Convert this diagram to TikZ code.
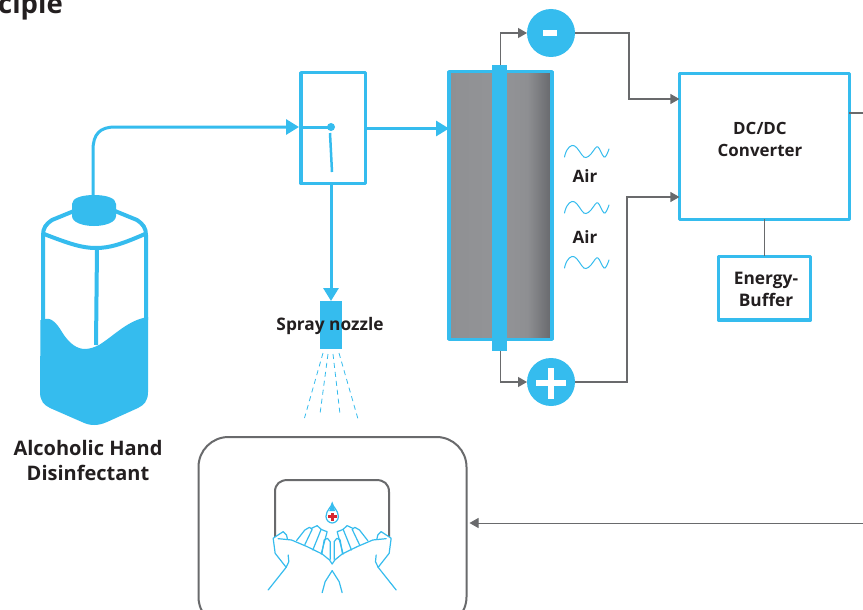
\documentclass[tikz,border=0pt]{standalone}
\usepackage{fontspec}
\setmainfont{Open Sans}
\usetikzlibrary{arrows.meta,calc}
\definecolor{fblue}{HTML}{35BCEE}
\definecolor{fgray}{HTML}{696A6C}
\definecolor{ftext}{HTML}{231F20}
\definecolor{fred}{HTML}{D7262F}
\definecolor{shA}{HTML}{8F9093}
\definecolor{shB}{HTML}{939497}
\definecolor{shC}{HTML}{8E8F92}
\definecolor{shD}{HTML}{66676B}
\pgfdeclarehorizontalshading{stackshade}{100bp}{
  color(0bp)=(shA);color(25bp)=(shA);color(50bp)=(shB);color(63bp)=(shC);color(75bp)=(shD);color(100bp)=(shD)}
\tikzset{
  bluebox/.style={draw=fblue,line width=3.5pt,line join=round,inner sep=0pt,outer sep=0pt,fill=white},
  bluebar/.style={fill=fblue,draw=none,inner sep=0pt,outer sep=0pt},
  pole/.style={circle,fill=fblue,draw=none,inner sep=0pt,outer sep=0pt,minimum size=48pt},
  bluepipe/.style={draw=fblue,line width=3pt,-{Triangle[length=13pt,width=15pt]}},
  wire/.style={draw=fgray,line width=1.2pt,-{Triangle[length=9pt,width=10pt]}},
  wireplain/.style={draw=fgray,line width=1.2pt},
  lab/.style={font=\bfseries,text=ftext,align=center,inner sep=0pt},
  spraydash/.style={draw=fblue,line width=0.8pt,dash pattern=on 5pt off 4pt},
  airwave/.style={draw=fblue,line width=1pt,line cap=round},
  handline/.style={draw=fblue,line width=1.2pt,line join=round,line cap=round},
}
\begin{document}
\begin{tikzpicture}[x=1pt,y=-1pt]
\useasboundingbox (0,0) rectangle (863,610);
\fill[white] (0,0) rectangle (863,610);
\begin{scope}
\clip (0,0) rectangle (863,610);
\node[lab,anchor=base west,font=\bfseries\fontsize{27.5}{30}\selectfont] (title) at (-2,14) {ciple};

% bottle
\fill[fblue] (40.5,320) -- (43,320) .. controls (50,316) and (56,322) .. (62,332)
  .. controls (70,345) and (78,349) .. (85,349) .. controls (90,349) and (95,347) .. (99,345)
  .. controls (115,335) and (128,320) .. (148,317) -- (148,392)
  .. controls (148,401) and (144,405) .. (138,408) -- (107,422)
  .. controls (98,426) and (90,426) .. (82,422) -- (50,408)
  .. controls (44,405) and (40,401) .. (40,392) -- cycle;
\draw[fblue,line width=4pt,line join=round] (43,320) -- (43,235)
  .. controls (43,228) and (46,224) .. (52,220) -- (74,211);
\draw[fblue,line width=4pt,line join=round] (146,320) -- (146,235)
  .. controls (146,228) and (143,224) .. (137,220) -- (115,211);
\draw[fblue,line width=4pt] (44,234) .. controls (70,244) and (82,248) .. (96,248)
  .. controls (110,248) and (122,244) .. (145,234);
\draw[fblue,line width=4pt] (97,248) -- (96,345);
\fill[fblue] (72,204) -- (72,216) .. controls (72,222) and (82,226) .. (94,226)
  .. controls (106,226) and (116,222) .. (116,216) -- (116,204)
  .. controls (116,198) and (106,195) .. (94,195) .. controls (82,195) and (72,198) .. (72,204) -- cycle;
\coordinate (capTop) at (93,196);
\node[lab,font=\bfseries\fontsize{20}{25}\selectfont] (bottleLabel) at (88,460) {Alcoholic Hand\\Disinfectant};

% switch box
\node[bluebox,minimum width=64.7pt,minimum height=110.7pt] (switch) at (333.1,128.1) {};
\fill[fblue] (331,127) circle (4pt);
\coordinate (pivot) at (331,127);
\draw[fblue,line width=3pt] (switch.west |- pivot) -- (pivot);
\draw[fblue,line width=2.5pt] (330,133) -- (332,172);
\draw[bluepipe] (capTop) -- (93,150) .. controls (93,134) and (100,127) .. (115,127) -- (299,127);

% stack
\node[bluebox,shading=stackshade,minimum width=103.2pt,minimum height=267.6pt] (stack) at (500.6,205.5) {};
\node[bluebar,minimum width=15pt,minimum height=286pt] (bar) at (499.5,208) {};
\draw[bluepipe] (switch.east |- 0,128.5) -- (stack.west |- 0,128.5);

% nozzle
\node[bluebar,minimum width=22pt,minimum height=48pt] (nozzle) at (331,325) {};
\draw[bluepipe] (switch.south -| nozzle.north) -- (nozzle.north);
\node[lab,font=\bfseries\fontsize{17.3}{18}\selectfont] (sprayLabel) at (330,326) {Spray nozzle};
\draw[spraydash] (323,353) -- (304.5,418);
\draw[spraydash] (328,354) -- (320,414);
\draw[spraydash] (333,354) -- (340,414);
\draw[spraydash] (339,353) -- (358,419);

% poles
\node[pole] (minus) at (551,33) {};
\fill[white] (543,30) rectangle (557,36);
\node[pole] (plus) at (551,382) {};
\fill[white] (535.5,380) rectangle (566,385.5);
\fill[white] (548,368) rectangle (553.5,399);

% converter
\node[bluebox,minimum width=170pt,minimum height=145.5pt] (dcdc) at (764.4,146.5) {};
\node[lab,font=\bfseries\fontsize{16.9}{22.5}\selectfont] (dcdcLabel) at (760,139.5) {DC/DC\\Converter};
\node[bluebox,minimum width=92pt,minimum height=63.5pt] (buffer) at (764.5,288.2) {};
\node[lab,font=\bfseries\fontsize{17.3}{21.5}\selectfont] (bufferLabel) at (766,289.5) {Energy-\\Buffer};

\coordinate (dcTopIn) at (dcdc.west |- 0,99);
\coordinate (dcBotIn) at (dcdc.west |- 0,197);
\draw[wire] (bar.north -| 500.5,0) |- (minus.west);
\draw[wire] (bar.south -| 500.5,0) |- (plus.west);
\draw[wire] (minus.east) -- (629,33) |- (dcTopIn);
\draw[wire] (plus.east) -- (627,382) |- (dcBotIn);
\draw[wireplain] (dcdc.south -| buffer.north) -- (buffer.north);
\coordinate (rightOut) at (863,113);
\draw[wireplain] (dcdc.east |- rightOut) -- (rightOut);

% air
\foreach \yy in {0,56,111} {
  \draw[airwave,shift={(0,\yy)}] plot[smooth,tension=0.75] coordinates
    {(564.5,157) (567,150) (572,145.5) (577,148) (582,155) (586,157.5) (591,154) (595,148.5) (598,147) (601,152) (604,157) (606.5,155) (609,149)};
}
\node[lab,font=\bfseries\fontsize{17}{18}\selectfont] (airA) at (585,176) {Air};
\node[lab,font=\bfseries\fontsize{17}{18}\selectfont] (airB) at (585,237) {Air};

% basin frame
\node[draw=fgray,line width=2pt,rounded corners=30pt,minimum width=268pt,minimum height=190pt,inner sep=0pt,outer sep=0pt] (basin) at (332.5,532) {};
\coordinate (rightIn) at (863,523);
\draw[wire,line width=1pt] (rightIn) -- ($(basin.east |- rightIn)+(3,0)$);

% hands icon
\draw[fgray,line width=2pt] (275,537) -- (275,492) .. controls (275,484) and (280,480) .. (288,480)
  -- (376,480) .. controls (384,480) and (389,484) .. (389,492) -- (389,537);
\begin{scope}[shift={(250,440)},x=0.3333pt,y=-0.3333pt]
  \foreach \mir in {1,-1} {
    \begin{scope}[shift={(246.5,0)},xscale=\mir]
      \fill[white] (-192,450) -- (-138,382) -- (-176,340) -- (-177,295) -- (-147,275) -- (-134,292)
        -- (-105,290) -- (-80,264) -- (-45,258) -- (-25,298) -- (-6,305) -- (0,372) -- (-30,350) -- (-130,340) -- cycle;
      \draw[handline] (-192,450) -- (-138,382) -- (-130,365) -- (-132,345);
      \draw[handline] (-138,382) -- (-171,340) -- (-177,295) -- (-170,290) -- (-147,275) -- (-137,285) -- (-134,298);
      \draw[handline] (-162,296) -- (-122,300) -- (-75,320) -- (-30,342) -- (-8,360) -- (0,372);
      \draw[handline] (-107,302) -- (-82,270) -- (-68,262) -- (-60,268) -- (-82,314);
      \draw[handline] (-62,265) -- (-45,257) -- (-33,268) -- (-58,330);
      \draw[handline] (-33,268) -- (-24,272) -- (-15,275) -- (-33,342);
      \draw[handline] (-31,342) -- (-24,300) -- (-14,295) -- (-6,305) -- (-6,358);
      \draw[handline] (-30,458) -- (-21,425) -- (0,392);
    \end{scope}
  }
\end{scope}
\draw[fblue,line width=1.2pt,fill=white] (332.2,503) .. controls (332.7,507) and (338.4,510.5) .. (338.4,516.5)
  .. controls (338.4,520) and (335.5,523) .. (332.2,523) .. controls (329,523) and (326,520) .. (326,516.5)
  .. controls (326,510.5) and (331.7,507) .. (332.2,503) -- cycle;
\fill[fblue] (332.2,503) -- (335.2,511) -- (329.2,511) -- cycle;
\fill[fred] (330.8,512.7) rectangle (333.7,521);
\fill[fred] (328,515.4) rectangle (336.6,518.2);
\end{scope}
\end{tikzpicture}
\end{document}
